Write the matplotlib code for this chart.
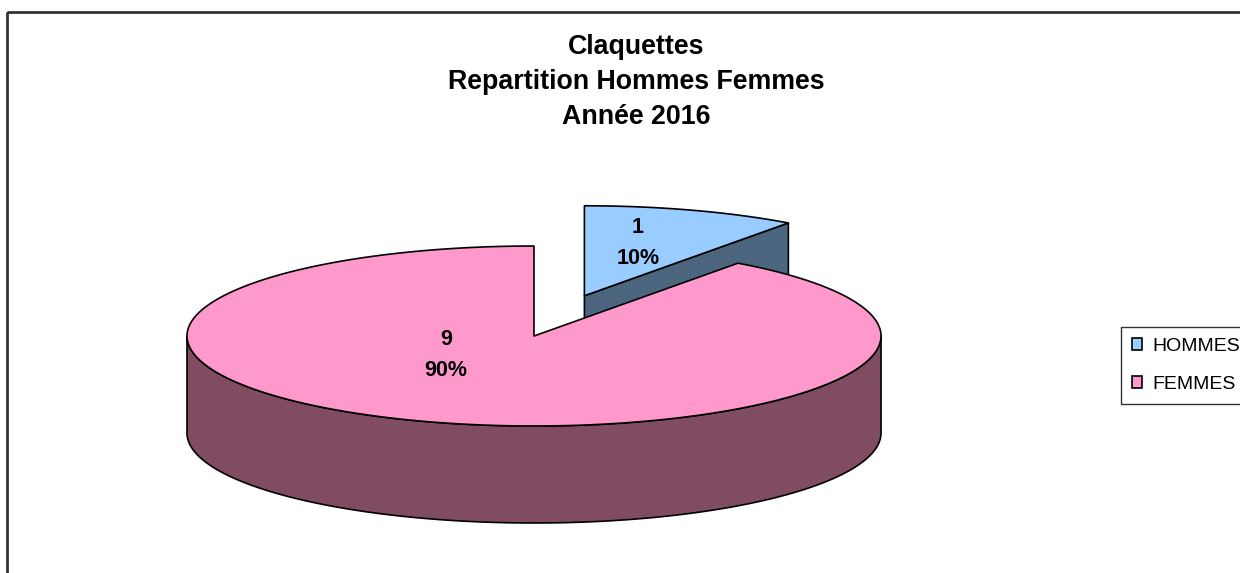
"""3D-style pie: Claquettes, repartition hommes / femmes 2016."""

import matplotlib
matplotlib.use("Agg")
import matplotlib.pyplot as plt
from matplotlib.patches import Polygon, Patch, Rectangle
import numpy as np

plt.rcParams["font.family"] = ["Liberation Sans", "DejaVu Sans"]

# data
categories = ["HOMMES", "FEMMES"]
values = [1, 9]
title_lines = ["Claquettes", "Repartition Hommes Femmes", "Année 2016"]

# styles
top_colors = ["#99CCFF", "#FF99CC"]
side_colors = ["#4C6680", "#804C62"]
explode = [0.47, 0.0]
label_frac = [(0.50, 0.62), (0.82, 0.22)]   # where the label sits inside the slice

# pie geometry (pixels, y downwards)
cx, cy = 534, 336
rx, ry = 347, 90
depth = 97
start = 90.0

W, H = 1240, 573
fig = plt.figure(figsize=(W / 100, H / 100), dpi=100)
ax = fig.add_axes([0, 0, 1, 1])
ax.set_xlim(0, W)
ax.set_ylim(H, 0)
ax.axis("off")

# chart area border (right/bottom fall outside the picture)
ax.add_patch(Rectangle((7, 12), 1400, 800, fill=False, edgecolor="#333333", lw=2))


def rim(t_deg, ox, oy, dz=0.0):
    t = np.radians(t_deg)
    return np.column_stack([ox + rx * np.cos(t), oy - ry * np.sin(t) + dz])


total = float(sum(values))
slices = []
acc = 0.0
for i, v in enumerate(values):
    t1 = start - acc / total * 360.0
    t2 = t1 - v / total * 360.0
    acc += v
    mid = np.radians((t1 + t2) / 2)
    ox = cx + explode[i] * rx * np.cos(mid)
    oy = cy - explode[i] * ry * np.sin(mid)
    slices.append((i, t1, t2, mid, ox, oy))

# back slices first
slices.sort(key=lambda s: -np.sin(s[3]))

for i, t1, t2, mid, ox, oy in slices:
    ec = dict(edgecolor="black", lw=1.2, joinstyle="round")
    # radial faces
    for t, sgn in ((t1, -1), (t2, 1)):
        if sgn * np.cos(np.radians(t)) > 1e-6:
            p = rim([t], ox, oy)[0]
            face = [(ox, oy), tuple(p), (p[0], p[1] + depth), (ox, oy + depth)]
            ax.add_patch(Polygon(face, closed=True, facecolor=side_colors[i], **ec))
    # outer front wall
    lo, hi = t2, t1
    for k in range(-2, 2):
        a = max(lo, -180 + 360 * k)
        b = min(hi, 0 + 360 * k)
        if b > a:
            ts = np.linspace(a, b, 200)
            top = rim(ts, ox, oy)
            bot = rim(ts[::-1], ox, oy, depth)
            ax.add_patch(Polygon(np.vstack([top, bot]), closed=True,
                                 facecolor=side_colors[i], **ec))
    # top face
    ts = np.linspace(t1, t2, 400)
    pts = np.vstack([[ox, oy], rim(ts, ox, oy)])
    ax.add_patch(Polygon(pts, closed=True, facecolor=top_colors[i], **ec))

# data labels
for i, t1, t2, mid, ox, oy in slices:
    fx, fy = label_frac[i]
    lx = ox + fx * rx * np.cos(mid)
    ly = oy - fy * ry * np.sin(mid)
    pct = values[i] / total * 100
    ax.text(lx, ly, f"{values[i]}\n{pct:.0f}%", ha="center", va="center",
            fontsize=15.5, fontweight="bold", linespacing=1.65)

# title
ax.text(636, 82, "\n".join(title_lines), ha="center", va="center",
        fontsize=19.3, fontweight="bold", linespacing=1.45)

# legend
handles = [Patch(facecolor=c, edgecolor="black", lw=1.2) for c in top_colors]
leg = ax.legend(handles, categories, loc="upper left",
                bbox_to_anchor=(1121, 327), bbox_transform=ax.transData,
                fontsize=14, frameon=True, fancybox=False, borderaxespad=0,
                borderpad=0.55, handlelength=0.55, handleheight=0.55,
                handletextpad=0.5, labelspacing=1.1)
leg.get_frame().set_edgecolor("black")
leg.get_frame().set_linewidth(1.0)

fig.savefig("out.png", dpi=100)
